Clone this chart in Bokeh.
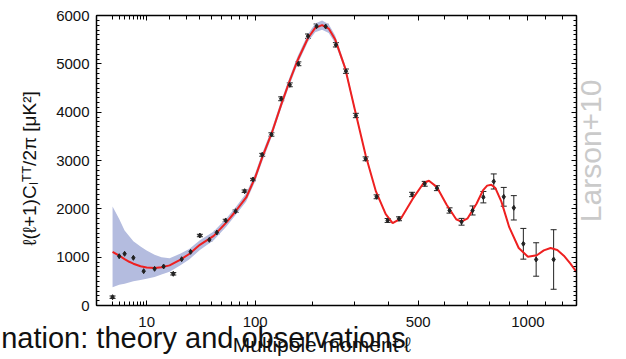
import numpy as np
from bokeh.plotting import figure
from bokeh.models import (Range1d, FixedTicker, CustomJSTickFormatter, LinearAxis,
                          Whisker, ColumnDataSource, TeeHead)
from bokeh.embed import file_html
from bokeh.resources import INLINE

# ---------------- data ----------------
theory_l = [2, 3, 4, 5, 6, 8, 10, 13, 16, 20, 26, 32, 40, 52, 65, 75, 88, 100, 110,
            125, 140, 155, 170, 190, 205, 220, 235, 250, 275, 300, 330, 360, 390, 412,
            440, 480, 520, 540, 570, 610, 650, 672, 700, 740, 770, 790, 810, 830, 860,
            900, 950, 1000, 1050, 1090, 1130, 1170, 1210, 1250, 1290]
theory_d = [1110, 1030, 960, 905, 865, 812, 785, 778, 790, 830, 945, 1065, 1255, 1440,
            1725, 1950, 2235, 2650, 3065, 3585, 4155, 4655, 5085, 5535, 5745, 5800, 5730,
            5510, 4910, 4060, 3110, 2360, 1890, 1705, 1805, 2205, 2535, 2580, 2455, 2085,
            1785, 1735, 1805, 2105, 2380, 2480, 2500, 2430, 2150, 1620, 1190, 1010, 1040,
            1140, 1190, 1150, 1030, 870, 695]

band_l = [2, 3, 4, 6, 8, 10, 13, 16, 20, 26, 32, 40, 52, 65, 75, 88, 100, 110, 125,
          140, 155, 170, 190, 205, 220, 235, 250, 275, 300]
band_lo = [379, 430, 450, 500, 530, 552, 590, 640, 700, 828, 950, 1150, 1350, 1640,
           1870, 2150, 2570, 2980, 3505, 4075, 4575, 5005, 5455, 5655, 5705, 5640, 5430,
           4850, 4010]
band_hi = [2048, 1790, 1550, 1330, 1220, 1138, 1050, 1000, 980, 1070, 1170, 1350, 1530,
           1810, 2035, 2320, 2735, 3150, 3665, 4235, 4735, 5165, 5615, 5835, 5895, 5820,
           5590, 4970, 4110]

obs_l = [2, 3, 4, 6, 9, 13, 17, 22, 27, 33, 40, 48, 55, 64, 75, 86, 97, 110, 124, 140,
         155, 171, 190, 208, 228, 252, 277, 303, 330, 362, 396, 433, 478, 524, 571, 622,
         673, 722, 772, 822, 872, 924, 975, 1046, 1148]
obs_d = [172, 1020, 1070, 987, 710, 759, 807, 656, 958, 1111, 1448, 1359, 1510, 1759,
         1951, 2365, 2607, 3118, 3538, 4277, 4566, 5001, 5572, 5779, 5773, 5394, 4848,
         3931, 3035, 2249, 1759, 1794, 2297, 2518, 2427, 1966, 1732, 1966, 2241, 2566,
         2249, 2021, 1277, 952, 952]
obs_err = [25, 25, 25, 25, 25, 25, 25, 25, 25, 25, 25, 25, 25, 25, 25, 25, 25, 30, 35,
           40, 40, 40, 45, 45, 45, 45, 45, 45, 40, 40, 40, 40, 45, 50, 50, 55, 70, 93,
           118, 156, 194, 252, 318, 346, 616]

x_major = [10, 100, 500, 1000]
x_minor = [2, 3, 4, 5, 6, 7, 8, 9, 10, 20, 30, 40, 50, 60, 70, 80, 90, 100, 200, 300,
           400, 500, 600, 700, 800, 900, 1000, 1100, 1200]
y_major = [0, 1000, 2000, 3000, 4000, 5000, 6000]
y_minor = list(range(0, 6001, 100))

y_title = "ℓ(ℓ+1)Cₗᵀᵀ/2π [μK²]"
x_title = "Multipole moment ℓ"
overlay_title = "nation: theory and observations"
credit = "Larson+10"

# x axis scale: power scale l**0.4
POW = 0.4


def sx(v):
    return np.power(np.asarray(v, dtype=float), POW)


FONT = "Liberation Sans"
NB = "\u00a0"

p = figure(width=626, height=359, output_backend="svg", toolbar_location=None,
           x_range=Range1d(0.5 ** POW, 1290 ** POW), y_range=Range1d(0, 6000),
           min_border_left=96, min_border_right=49, min_border_top=15,
           min_border_bottom=54)
p.xgrid.visible = False
p.ygrid.visible = False
p.outline_line_color = "black"
p.background_fill_color = "white"
p.border_fill_color = "white"

# band
p.varea(x=sx(band_l), y1=band_lo, y2=band_hi, fill_color="#b4bcdf", fill_alpha=1.0)
# theory
p.line(sx(theory_l), theory_d, line_color="#ee2020", line_width=2)

# observations
src = ColumnDataSource(dict(x=sx(obs_l), y=obs_d,
                            lo=np.array(obs_d) - np.array(obs_err),
                            hi=np.array(obs_d) + np.array(obs_err)))
w = Whisker(base="x", lower="lo", upper="hi", source=src, line_color="#222222",
            line_width=1,
            lower_head=TeeHead(size=6, line_color="#222222", line_width=1),
            upper_head=TeeHead(size=6, line_color="#222222", line_width=1))
p.add_layout(w)
p.scatter("x", "y", source=src, marker="diamond", size=5, color="#222222")

# axes
xt = FixedTicker(ticks=list(sx(x_major)), minor_ticks=list(sx(x_minor)))
yt = FixedTicker(ticks=y_major, minor_ticks=y_minor)
fmt_x = CustomJSTickFormatter(code="return Math.round(Math.pow(tick, 2.5)).toString();")


def blank():
    return CustomJSTickFormatter(code="return '';")


def style(ax, ticker, major_len, minor_len):
    ax.ticker = ticker
    ax.major_tick_in = major_len
    ax.major_tick_out = 0
    ax.minor_tick_in = minor_len
    ax.minor_tick_out = 0
    ax.axis_line_width = 1.5
    ax.major_tick_line_width = 1
    ax.minor_tick_line_width = 1
    ax.axis_line_color = "black"
    ax.major_tick_line_color = "black"
    ax.minor_tick_line_color = "black"


def label_style(ax, size, color="#111111"):
    ax.axis_label_text_font = FONT
    ax.axis_label_text_font_size = size
    ax.axis_label_text_font_style = "normal"
    ax.axis_label_text_color = color


def label_only(ax):
    ax.ticker = FixedTicker(ticks=[])
    ax.formatter = blank()
    ax.axis_line_color = None
    ax.major_tick_in = 0
    ax.major_tick_out = 0
    ax.minor_tick_in = 0
    ax.minor_tick_out = 0
    ax.major_label_text_font_size = "0px"
    ax.major_label_standoff = 0


xa = p.xaxis[0]
style(xa, xt, 5, 4)
xa.formatter = fmt_x
xa.major_label_text_font = FONT
xa.major_label_text_font_size = "15px"
xa.major_label_text_color = "#111111"
xa.major_label_standoff = 11
xa.axis_label = overlay_title + NB * 33
label_style(xa, "29px")
xa.axis_label_standoff = -8

ya = p.yaxis[0]
style(ya, yt, 5, 3)
ya.major_label_text_font = FONT
ya.major_label_text_font_size = "15px"
ya.major_label_text_color = "#111111"
ya.major_label_standoff = 7
ya.axis_label = y_title + NB * 3
label_style(ya, "19px")
ya.axis_label_standoff = 13

top = LinearAxis()
style(top, xt, 5, 4)
top.formatter = blank()
top.major_label_text_font_size = "0px"
top.major_label_standoff = 0
p.add_layout(top, "above")

right = LinearAxis()
style(right, yt, 5, 3)
right.formatter = blank()
right.major_label_text_font_size = "0px"
right.major_label_standoff = 0
p.add_layout(right, "right")

# second bottom axis only carrying the x title
xa2 = LinearAxis()
label_only(xa2)
xa2.axis_label = x_title + NB * 5
label_style(xa2, "21px")
xa2.axis_label_standoff = -24
p.add_layout(xa2, "below")

# right axis only carrying the credit, reading bottom to top
ra2 = LinearAxis()
label_only(ra2)
label_style(ra2, "30px", "#cacaca")
ra2.axis_label_orientation = np.pi / 2
ra2.axis_label_standoff = 14
if "axis_label_align" in ra2.properties():
    ra2.axis_label_align = "start"
    ra2.axis_label = NB * 10 + credit
else:
    ra2.axis_label = credit
p.add_layout(ra2, "right")

open("out.html", "w").write(file_html(p, INLINE))
